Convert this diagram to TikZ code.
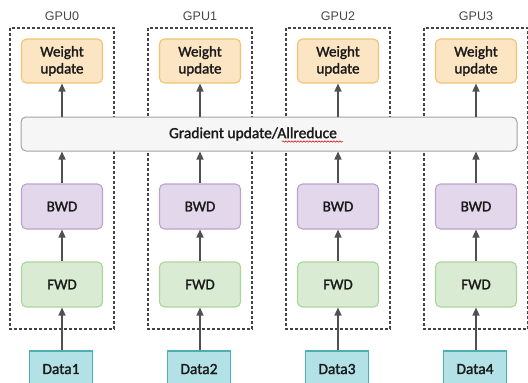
\documentclass[tikz,border=0pt]{standalone}
\usepackage{fontspec}
\setmainfont{Carlito}
\newfontfamily\boxfont{Carlito}[FakeBold=1.6]
\newfontfamily\gpufont{Liberation Sans}
\usetikzlibrary{arrows.meta,decorations.pathmorphing}
\definecolor{wfill}{HTML}{FCE5C3}
\definecolor{wdraw}{HTML}{F1C373}
\definecolor{bfill}{HTML}{E3D7EB}
\definecolor{bdraw}{HTML}{BBA3CD}
\definecolor{ffill}{HTML}{D9EBD3}
\definecolor{fdraw}{HTML}{ACD49B}
\definecolor{dfill}{HTML}{B2E2E6}
\definecolor{ddraw}{HTML}{4DAEB5}
\definecolor{gfill}{HTML}{F6F6F6}
\definecolor{gdraw}{HTML}{A2A2A2}
\definecolor{arr}{HTML}{505050}
\definecolor{dash}{HTML}{444444}
\definecolor{txt}{HTML}{1A1A1A}
\tikzset{
  base/.style={draw, line width=1.1pt, rounded corners=5pt, minimum width=81pt, inner sep=0pt, align=center, font=\boxfont\fontsize{15}{17}\selectfont, text=txt},
  wbox/.style={base, fill=wfill, draw=wdraw, minimum height=44pt},
  bbox/.style={base, fill=bfill, draw=bdraw, minimum height=45pt},
  fbox/.style={base, fill=ffill, draw=fdraw, minimum height=45pt},
  dbox/.style={draw=ddraw, fill=dfill, line width=1.1pt, minimum width=63pt, minimum height=36pt, inner sep=0pt, font=\boxfont\fontsize{15.5}{17}\selectfont, text=txt, text depth=0pt},
  gbox/.style={draw=gdraw, fill=gfill, line width=1pt, rounded corners=5pt, minimum width=496pt, minimum height=34pt, inner sep=0pt},
  gpubox/.style={draw=dash, line width=1.3pt, dash pattern=on 3pt off 2pt},
  gpulbl/.style={font=\gpufont\fontsize{12.5}{14}\selectfont, text=black!72},
  flow/.style={draw=arr, line width=1.4pt, -{Triangle[length=8pt,width=7pt]}}
}
\begin{document}
\begin{tikzpicture}[x=1pt,y=-1pt]
\useasboundingbox (0,0) rectangle (528,383);
\foreach \i/\cx in {0/62,1/200,2/338,3/476}{
  \draw[gpubox] (\cx-52,28) rectangle (\cx+52,329);
  \node[gpulbl] (g\i) at (\cx,16) {GPU\i};
  \node[wbox] (w\i) at (\cx,61) {Weight\\update};
  \node[bbox] (b\i) at (\cx,206.5) {BWD};
  \node[fbox] (f\i) at (\cx,284.5) {FWD};
  \node[dbox] (d\i) at (\cx-1,369) {Data\the\numexpr\i+1\relax};
}
\node[gbox] (bar) at (269,134) {};
\node[font=\boxfont\fontsize{15.5}{17}\selectfont, text=txt, inner sep=0pt] (bart) at (253,134) {Gradient update/Allreduce};
\coordinate (sq1) at (282,141.5);
\coordinate (sq2) at (343,141.5);
\draw[red!80!black, line width=0.5pt, decorate, decoration={snake, amplitude=0.7pt, segment length=3pt}] (sq1) -- (sq2);
\foreach \i in {0,1,2,3}{
  \draw[flow] (d\i.north -| f\i.south) -- (f\i.south);
  \draw[flow] (f\i) -- (b\i);
  \draw[flow] (b\i.north) -- (b\i.north |- bar.south);
  \draw[flow] (w\i.south |- bar.north) -- (w\i.south);
}
\end{tikzpicture}
\end{document}
